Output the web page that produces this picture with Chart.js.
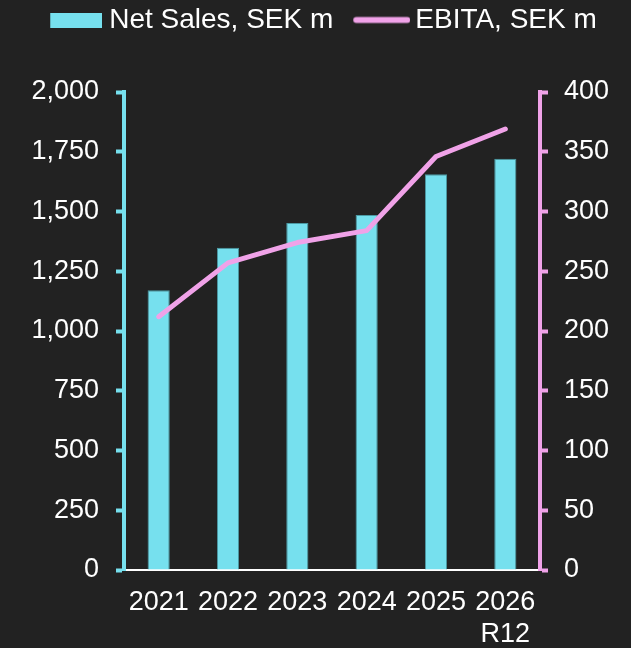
<!DOCTYPE html>
<html>
<head>
<meta charset="utf-8">
<script src="https://cdn.jsdelivr.net/npm/chart.js@4"></script>
<style>
  html, body { margin: 0; padding: 0; background: #222222; }
  #wrap { width: 631px; height: 648px; }
</style>
</head>
<body>
<div id="wrap"><canvas id="c" width="631" height="648"></canvas></div>
<script>
const categories = ['2021', '2022', '2023', '2024', '2025', ['2026', 'R12']];
const netSales = [1170, 1348, 1452, 1485, 1656, 1721];
const ebita = [212, 257, 274, 284, 346, 369];
const seriesNames = ['Net Sales, SEK m', 'EBITA, SEK m'];

const BAR_COLOR = '#76e0ee';
const LINE_COLOR = '#f0a2e8';
const FONT = "'Liberation Sans', Arial, sans-serif";

function makeBoxImage() {
  const c = document.createElement('canvas');
  c.width = 72; c.height = 15;
  const g = c.getContext('2d');
  g.fillStyle = BAR_COLOR;
  g.fillRect(20, 0, 52, 15);
  return c;
}
function makeLineImage() {
  const c = document.createElement('canvas');
  c.width = 76; c.height = 15;
  const g = c.getContext('2d');
  g.strokeStyle = LINE_COLOR;
  g.lineWidth = 6;
  g.lineCap = 'round';
  g.beginPath();
  g.moveTo(22, 7.5);
  g.lineTo(73, 7.5);
  g.stroke();
  return c;
}
const boxImg = makeBoxImage();
const lineImg = makeLineImage();

new Chart(document.getElementById('c'), {
  data: {
    labels: categories,
    datasets: [
      {
        type: 'bar',
        label: seriesNames[0],
        data: netSales,
        yAxisID: 'y',
        backgroundColor: BAR_COLOR,
        borderColor: '#4b9aa4',
        borderWidth: 1,
        categoryPercentage: 1,
        barPercentage: 0.32,
        order: 1
      },
      {
        type: 'line',
        label: seriesNames[1],
        data: ebita,
        yAxisID: 'y1',
        borderColor: LINE_COLOR,
        backgroundColor: LINE_COLOR,
        borderWidth: 5,
        borderCapStyle: 'round',
        borderJoinStyle: 'round',
        pointRadius: 0,
        tension: 0,
        order: 0
      }
    ]
  },
  options: {
    responsive: false,
    animation: false,
    layout: { padding: { left: 3, right: 0, top: -4, bottom: 0 } },
    plugins: {
      tooltip: { enabled: false },
      legend: {
        position: 'top',
        weight: 3000,
        labels: {
          usePointStyle: true,
          pointStyleWidth: 58,
          padding: 10,
          color: '#ffffff',
          font: { family: FONT, size: 28 },
          generateLabels: function () {
            return [
              { text: seriesNames[0], pointStyle: boxImg, fillStyle: BAR_COLOR, strokeStyle: BAR_COLOR, lineWidth: 0, fontColor: '#ffffff', datasetIndex: 0, hidden: false },
              { text: seriesNames[1], pointStyle: lineImg, fillStyle: LINE_COLOR, strokeStyle: LINE_COLOR, lineWidth: 0, fontColor: '#ffffff', datasetIndex: 1, hidden: false }
            ];
          }
        }
      },
      title: {
        display: true,
        text: '',
        weight: 500,
        font: { size: 10, lineHeight: 1 },
        padding: { top: 0, bottom: 38 }
      }
    },
    scales: {
      x: {
        type: 'category',
        offset: true,
        afterFit: function (s) { s.height = 78; },
        grid: { display: false, drawTicks: false },
        border: { display: true, color: '#ffffff', width: 2 },
        ticks: {
          color: '#ffffff',
          font: { family: FONT, size: 27, lineHeight: 1.2 },
          padding: 16,
          maxRotation: 0,
          autoSkip: false
        }
      },
      y: {
        type: 'linear',
        position: 'left',
        min: 0,
        max: 2000,
        afterFit: function (s) { s.width = 121; },
        grid: { drawOnChartArea: false, drawTicks: true, tickLength: 8, tickWidth: 4, tickColor: BAR_COLOR },
        border: { display: true, color: BAR_COLOR, width: 4 },
        ticks: {
          stepSize: 250,
          color: '#ffffff',
          padding: 17,
          font: { family: FONT, size: 27 },
          callback: function (v) { return Number(v).toLocaleString('en-US'); }
        }
      },
      y1: {
        type: 'linear',
        position: 'right',
        min: 0,
        max: 400,
        afterFit: function (s) { s.width = 91; },
        grid: { drawOnChartArea: false, drawTicks: true, tickLength: 8, tickWidth: 4, tickColor: LINE_COLOR },
        border: { display: true, color: LINE_COLOR, width: 4 },
        ticks: {
          stepSize: 50,
          color: '#ffffff',
          padding: 16,
          font: { family: FONT, size: 27 },
          callback: function (v) { return String(v); }
        }
      }
    }
  }
});
</script>
</body>
</html>
